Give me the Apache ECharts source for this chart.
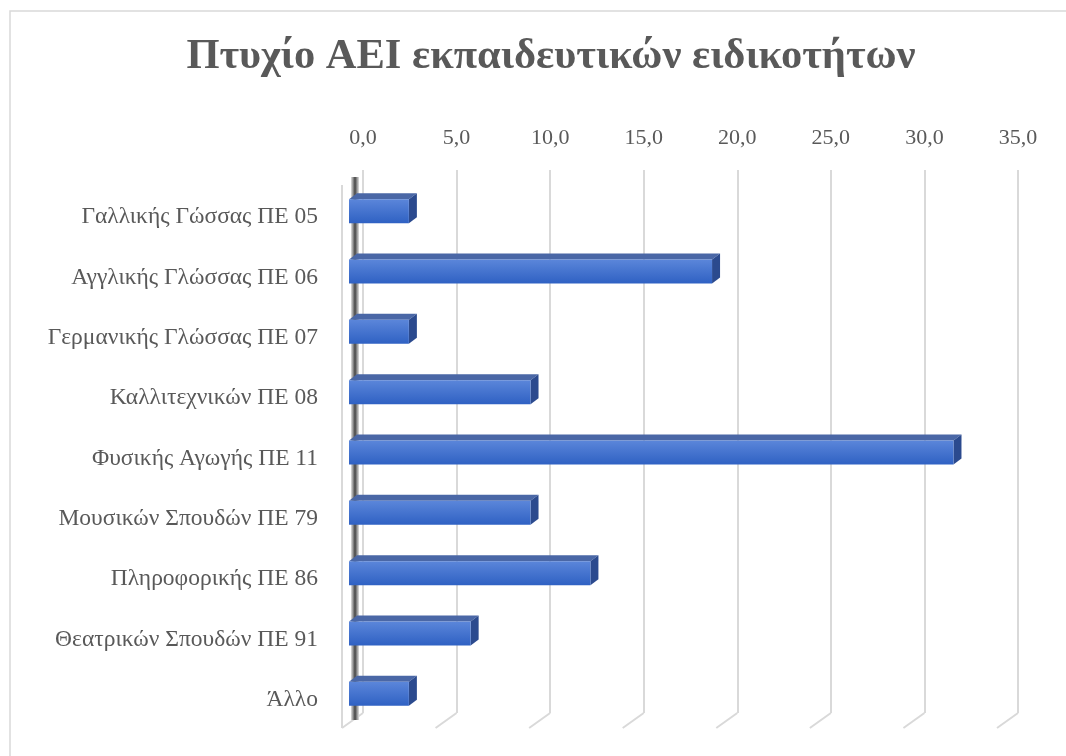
<!DOCTYPE html>
<html>
<head>
<meta charset="utf-8">
<script src="https://cdn.jsdelivr.net/npm/echarts@6/dist/echarts.min.js"></script>
<style>
  html, body { margin: 0; padding: 0; background: #fff; }
  #chart { width: 1066px; height: 756px; }
</style>
</head>
<body>
<div id="chart"></div>
<script>
var categories = ['Γαλλικής Γώσσας ΠΕ 05', 'Αγγλικής Γλώσσας ΠΕ 06', 'Γερμανικής Γλώσσας ΠΕ 07',
  'Καλλιτεχνικών ΠΕ 08', 'Φυσικής Αγωγής ΠΕ 11', 'Μουσικών Σπουδών ΠΕ 79',
  'Πληροφορικής ΠΕ 86', 'Θεατρικών Σπουδών ΠΕ 91', 'Άλλο'];
var values = [3.2, 19.4, 3.2, 9.7, 32.3, 9.7, 12.9, 6.5, 3.2];
var ticks = [0, 5, 10, 15, 20, 25, 30, 35];

var myChart = echarts.init(document.getElementById('chart'));

var serif = '"Liberation Serif", "Times New Roman", serif';
var textColor = '#595959';

// 3d offsets (back wall -> front of bar, bar depth, floor depth)
var frontDx = -14, frontDy = 11;
var depthDx = 8, depthDy = -6;
var floorDx = -21, floorDy = 15;
var barH = 24;

var barData = [];
for (var i = 0; i < values.length; i++) {
  barData.push([values[i], i]);
}
var tickData = [];
for (var i = 0; i < ticks.length; i++) {
  tickData.push([ticks[i], 0]);
}

function renderBar(params, api) {
  var p0 = api.coord([0, api.value(1)]);
  var p1 = api.coord([api.value(0), api.value(1)]);
  var x0 = p0[0] + frontDx, x1 = p1[0] + frontDx;
  var yT = p0[1] + frontDy - barH / 2, yB = yT + barH;
  return {
    type: 'group',
    children: [
      {
        type: 'text',
        style: {
          text: categories[api.value(1)],
          x: p0[0] + floorDx - 24,
          y: p0[1] + floorDy + 2,
          align: 'right',
          verticalAlign: 'middle',
          font: '23.5px ' + serif,
          fill: textColor
        }
      },
      {
        type: 'polygon',
        shape: { points: [[x0, yT], [x1, yT], [x1 + depthDx, yT + depthDy], [x0 + depthDx, yT + depthDy]] },
        style: { fill: '#4a67a6' }
      },
      {
        type: 'polygon',
        shape: { points: [[x1, yT], [x1 + depthDx, yT + depthDy], [x1 + depthDx, yB + depthDy], [x1, yB]] },
        style: { fill: '#2b4a8e' }
      },
      {
        type: 'rect',
        shape: { x: x0, y: yT, width: x1 - x0, height: barH },
        style: {
          fill: new echarts.graphic.LinearGradient(0, 0, 0, 1, [
            { offset: 0, color: '#5b86da' },
            { offset: 1, color: '#2f61c3' }
          ])
        }
      }
    ]
  };
}

function renderFloor(params, api) {
  var cs = params.coordSys;
  var p = api.coord([api.value(0), 0]);
  var top = cs.y, bottom = cs.y + cs.height;
  var children = [{
    type: 'line',
    shape: { x1: p[0], y1: bottom, x2: p[0] + floorDx, y2: bottom + floorDy },
    style: { stroke: '#d9d9d9', lineWidth: 2 }
  }];
  if (api.value(0) === 0) {
    children.push({
      type: 'line',
      shape: { x1: p[0] + floorDx, y1: top + floorDy, x2: p[0] + floorDx, y2: bottom + floorDy },
      style: { stroke: '#d9d9d9', lineWidth: 2 }
    });
    children.push({
      type: 'rect',
      shape: { x: p[0] - 12, y: top + 7, width: 8, height: bottom - top },
      style: {
        fill: new echarts.graphic.LinearGradient(0, 0, 1, 0, [
          { offset: 0, color: '#e0e0e0' },
          { offset: 0.5, color: '#444444' },
          { offset: 1, color: '#e0e0e0' }
        ])
      }
    });
  }
  return { type: 'group', children: children };
}

var option = {
  backgroundColor: '#fff',
  animation: false,
  title: {
    text: 'Πτυχίο ΑΕΙ εκπαιδευτικών ειδικοτήτων',
    left: 546,
    textAlign: 'center',
    top: 31,
    textStyle: { fontFamily: serif, fontWeight: 'bold', fontSize: 42.5, color: textColor }
  },
  graphic: [{
    type: 'rect',
    shape: { x: 10, y: 11, width: 1070, height: 760 },
    style: { fill: 'none', stroke: '#d9d9d9', lineWidth: 1.5 },
    z: -1
  }],
  grid: { left: 363, right: 48, top: 170, bottom: 43 },
  xAxis: {
    type: 'value',
    position: 'top',
    min: 0,
    max: 35,
    interval: 5,
    axisLine: { show: false },
    axisTick: { show: false },
    splitLine: { lineStyle: { color: '#d9d9d9', width: 2 } },
    axisLabel: {
      margin: 21,
      fontFamily: serif,
      fontSize: 22,
      color: textColor,
      formatter: function(v) { return v.toFixed(1).replace('.', ','); }
    }
  },
  yAxis: {
    type: 'category',
    inverse: true,
    data: categories,
    axisLine: { show: false },
    axisTick: { show: false },
    splitLine: { show: false },
    axisLabel: { show: false }
  },
  series: [
    {
      type: 'custom',
      renderItem: renderFloor,
      data: tickData,
      z: 1,
      silent: true
    },
    {
      type: 'custom',
      renderItem: renderBar,
      data: barData,
      z: 2
    }
  ]
};
myChart.setOption(option);
</script>
</body>
</html>
